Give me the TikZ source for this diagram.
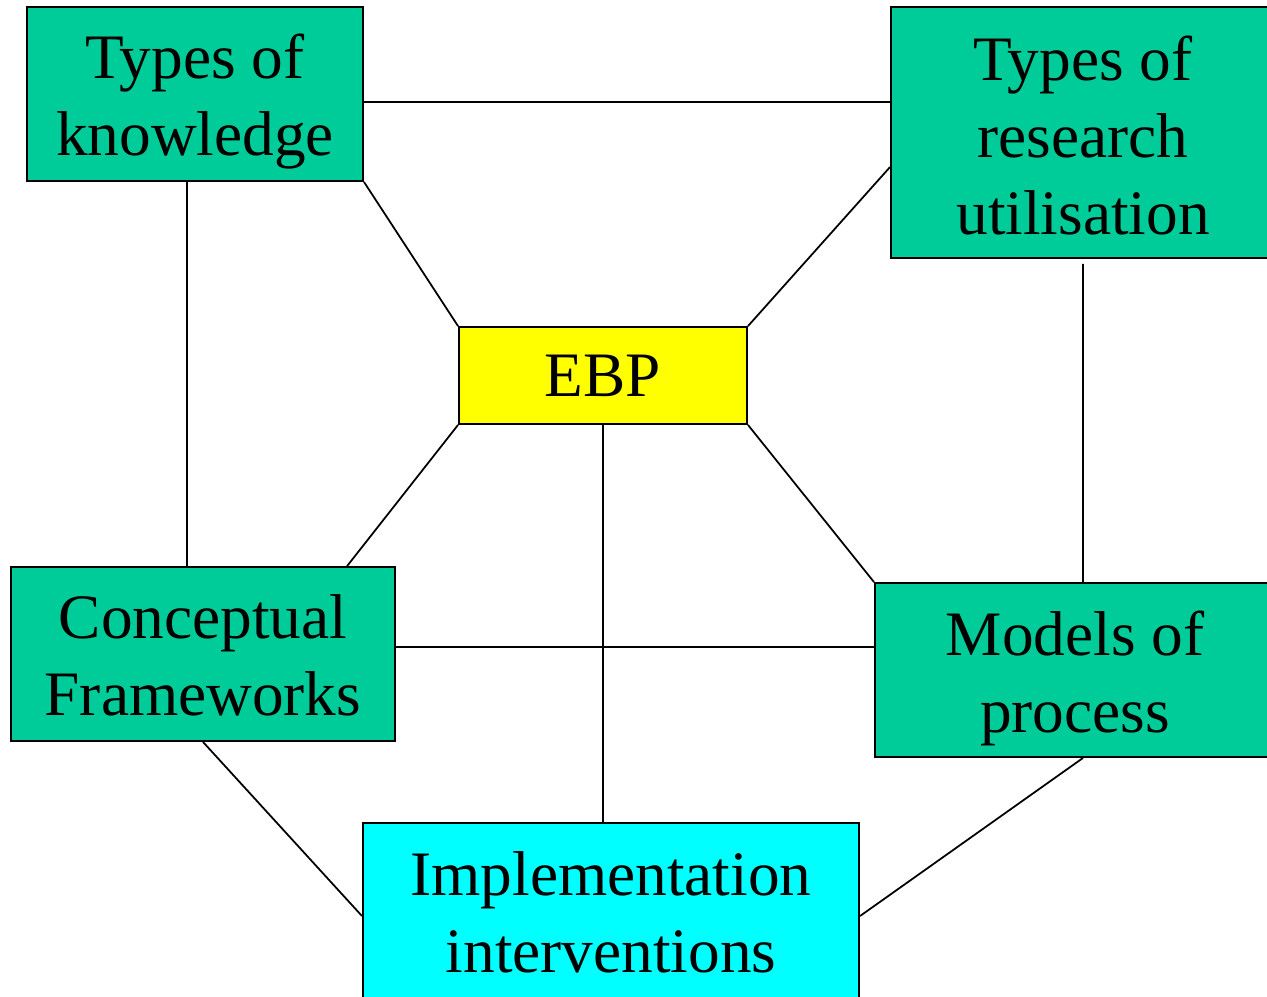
\documentclass[tikz,border=0pt]{standalone}
\usepackage{fontspec}
\setmainfont{Liberation Serif}
\begin{document}
\begin{tikzpicture}[x=0.01cm,y=-0.01cm,
  box/.style={draw=black,line width=0.5pt,inner sep=0pt},
  green box/.style={box,fill=greenfill},
  txt/.style={align=center,inner sep=0pt,font=\fontsize{18}{21.9}\selectfont},
  link/.style={draw=black,line width=0.5pt}]
\definecolor{greenfill}{HTML}{00CC99}
\definecolor{yellowfill}{HTML}{FFFF00}
\definecolor{cyanfill}{HTML}{00FFFF}
\useasboundingbox (0,0) rectangle (1267,996);
\node[green box,minimum width=3.36cm,minimum height=1.74cm] (tk) at (195,94) {};
\node[txt] (tkt) at ([yshift=-0.08cm]tk.center) {Types of\\knowledge};
\node[green box,minimum width=3.84cm,minimum height=2.51cm] (tru) at (1083,132.5) {};
\node[txt] (trut) at ([yshift=-0.03cm]tru.center) {Types of\\research\\utilisation};
\node[box,fill=yellowfill,minimum width=2.88cm,minimum height=0.97cm] (ebp) at (603,375.5) {};
\node[txt] (ebpt) at (ebp.center) {EBP};
\node[green box,minimum width=3.84cm,minimum height=1.74cm] (cf) at (203,654) {};
\node[txt] (cft) at ([yshift=-0.01cm]cf.center) {Conceptual\\Frameworks};
\node[green box,minimum width=4.00cm,minimum height=1.74cm] (mp) at (1075,670) {};
\node[txt] (mpt) at ([yshift=-0.08cm]mp.center) {Models of\\process};
\node[box,fill=cyanfill,minimum width=4.96cm,minimum height=1.80cm] (ii) at (611,913) {};
\node[txt] (iit) at ([yshift=0.01cm]ii.center) {Implementation\\interventions};
\draw[link] ([yshift=-0.08cm]tk.east) -- ([yshift=0.305cm]tru.west);
\draw[link] ([xshift=-0.08cm]tk.south) -- ([xshift=-0.16cm]cf.north);
\draw[link] (tk.south east) -- (ebp.north west);
\draw[link] ([yshift=-0.345cm]tru.west) -- (ebp.north east);
\draw[link] ([yshift=-0.05cm]tru.south) -- ([xshift=0.08cm]mp.north);
\draw[link] (ebp.south west) -- ([xshift=1.44cm]cf.north);
\draw[link] (ebp.south east) -- (mp.north west);
\draw[link] (ebp.south) -- ([xshift=-0.08cm]ii.north);
\draw[link] ([yshift=0.07cm]cf.east) -- ([yshift=0.23cm]mp.west);
\draw[link] (cf.south) -- ([yshift=-0.03cm]ii.west);
\draw[link] ([xshift=0.08cm]mp.south) -- ([yshift=-0.03cm]ii.east);
\end{tikzpicture}
\end{document}
